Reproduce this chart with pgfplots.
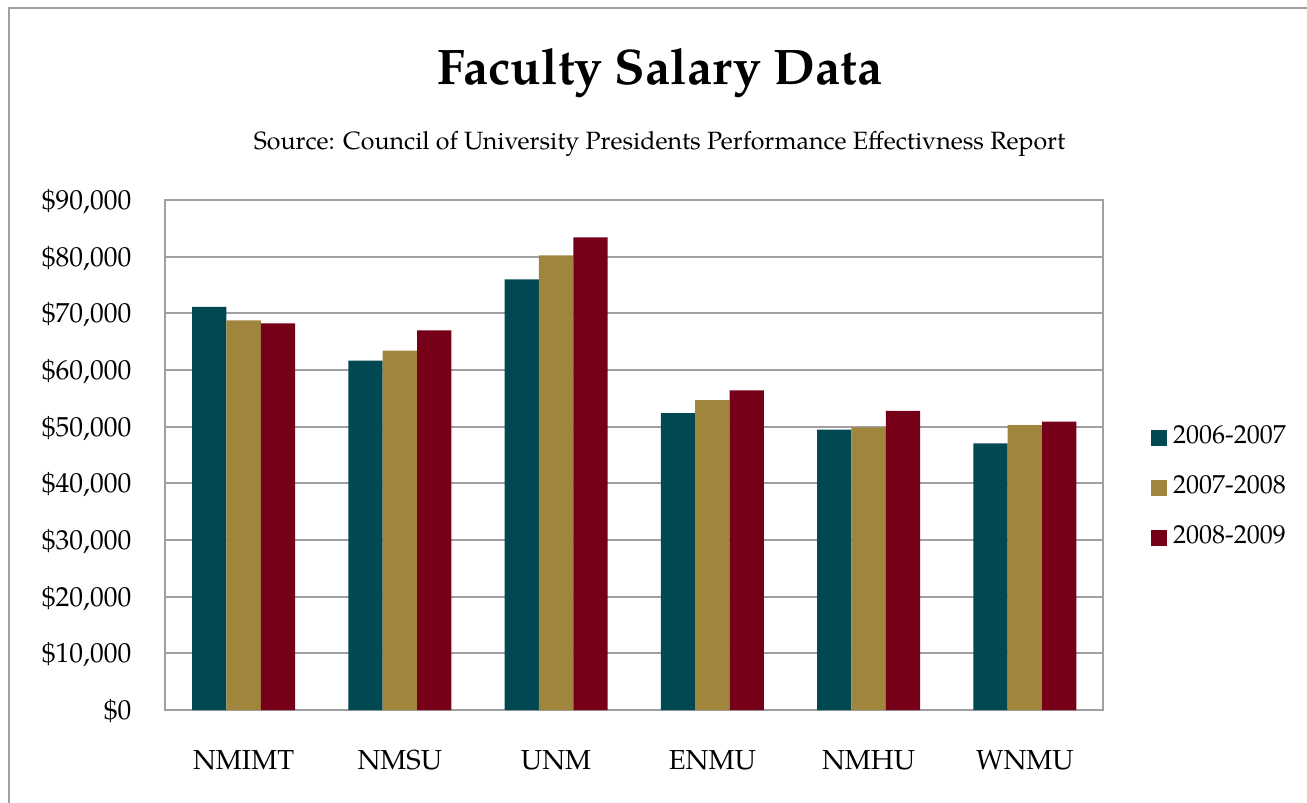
\documentclass[border=0pt]{standalone}
\usepackage{fontspec}
\setmainfont{texgyrepagella}[Extension=.otf, UprightFont=*-regular, BoldFont=*-bold, ItalicFont=*-italic, BoldItalicFont=*-bolditalic]
\usepackage{pgfplots}
\pgfplotsset{compat=1.18}
\definecolor{c1}{RGB}{0,72,82}
\definecolor{c2}{RGB}{160,134,60}
\definecolor{c3}{RGB}{117,0,24}
\definecolor{gr}{RGB}{160,160,164}
\begin{document}
\begin{tikzpicture}
\path[use as bounding box] (-165.5bp,-93bp) rectangle (1141.5bp,710bp);
\begin{axis}[
  at={(0,0)}, anchor=south west,
  scale only axis, width=937.5bp, height=510bp,
  ybar=0pt, bar width=34.3bp,
  xmin=-0.5, xmax=5.5, ymin=0, ymax=90000,
  scaled y ticks=false,
  xtick={0,...,5}, xticklabels={NMIMT,NMSU,UNM,ENMU,NMHU,WNMU},
  ytick={0,10000,20000,30000,40000,50000,60000,70000,80000,90000},
  yticklabels={\$0,{\$10,000},{\$20,000},{\$30,000},{\$40,000},{\$50,000},{\$60,000},{\$70,000},{\$80,000},{\$90,000}},
  major tick length=0pt,
  axis line style={gr, line width=2bp},
  ymajorgrids, grid style={gr, line width=2bp},
  ticklabel style={font=\fontsize{27.5bp}{32bp}\selectfont, inner sep=0pt},
  xticklabel style={anchor=base, yshift=-59bp},
  yticklabel style={anchor=base east, xshift=-34bp, yshift=-9.5bp},
  legend style={draw=none, fill=none, anchor=west, at={(axis description cs:1,0.436)}, xshift=45bp,
    font=\fontsize{26bp}{30bp}\selectfont, row sep=26bp,
    nodes={inner sep=0pt, text height=18bp, text depth=6bp}},
  legend image code/.code={\fill[#1] (0bp,-8bp) rectangle (16bp,8bp); \path (22bp,0bp);},
  legend cell align=left,
]
\addplot[fill=c1, draw=none] coordinates {(0,71160) (1,61650) (2,76000) (3,52410) (4,49470) (5,47060)};
\addplot[fill=c2, draw=none] coordinates {(0,68760) (1,63410) (2,80240) (3,54700) (4,49880) (5,50290)};
\addplot[fill=c3, draw=none] coordinates {(0,68240) (1,67000) (2,83410) (3,56400) (4,52770) (5,50880)};
\legend{2006-2007,2007-2008,2008-2009}
\end{axis}
\node[anchor=base, font=\fontsize{50bp}{58bp}\selectfont\bfseries] at (494.5bp,625bp) {Faculty Salary Data};
\node[anchor=base, font=\fontsize{25bp}{29bp}\selectfont] at (494bp,560bp) {Source: Council of University Presidents Performance Effectivness Report};
\draw[gr, line width=2bp] (-156.5bp,-120bp) -- (-156.5bp,702bp) -- (1200bp,702bp);
\end{tikzpicture}
\end{document}
